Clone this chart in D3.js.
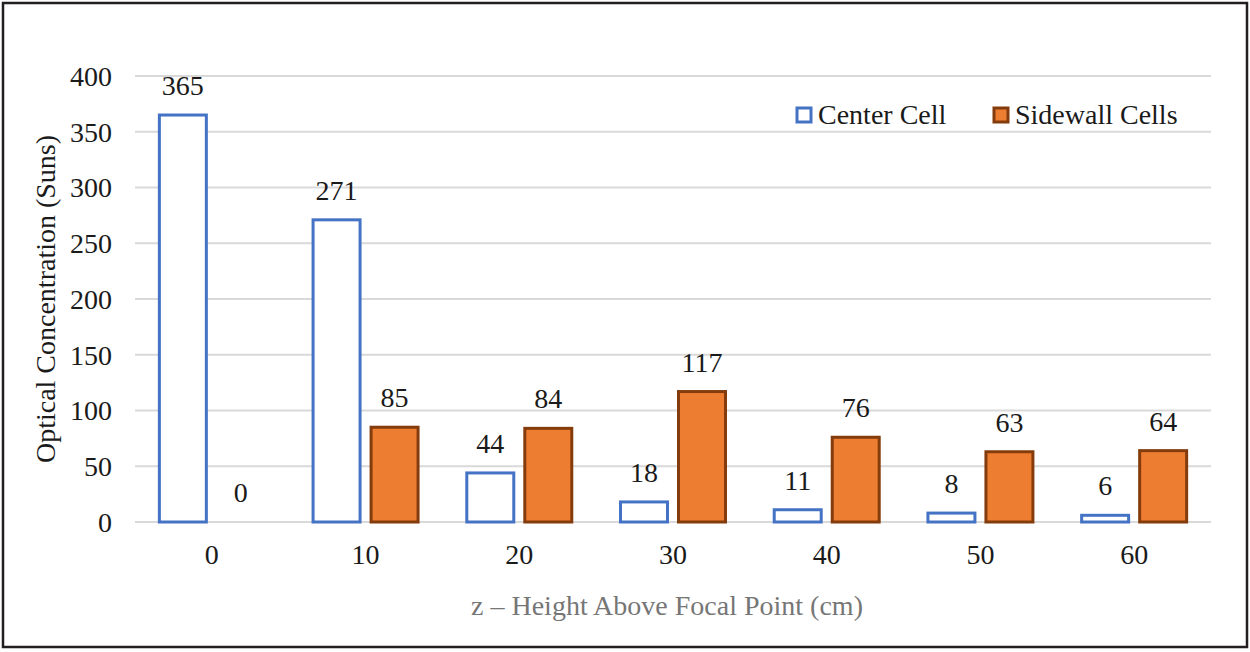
<!DOCTYPE html>
<html>
<head>
<meta charset="utf-8">
<script src="https://cdn.jsdelivr.net/npm/d3@7"></script>
<style>
  body { margin: 0; background: #fff; }
  svg text { font-family: "Liberation Serif", "DejaVu Serif", "Times New Roman", serif; }
</style>
</head>
<body>
<svg id="chart"></svg>
<script>
// chart data
const heights = ['0', '10', '20', '30', '40', '50', '60'];
const centerCell = [365, 271, 44, 18, 11, 8, 6];
const sidewallCells = [0, 85, 84, 117, 76, 63, 64];
const yTicks = [0, 50, 100, 150, 200, 250, 300, 350, 400];
const seriesNames = ['Center Cell', 'Sidewall Cells'];

const width = 1250;
const height = 652;
const plot = { left: 135, right: 1211, top: 76, bottom: 522 };
const fs = 28;

const svg = d3.select('#chart')
    .attr('width', width)
    .attr('height', height)
    .attr('font-family', 'Liberation Serif, serif');

// outer frame
svg.append('rect')
    .attr('x', 3).attr('y', 3)
    .attr('width', width - 6).attr('height', height - 8)
    .attr('fill', '#fff')
    .attr('stroke', '#231f20')
    .attr('stroke-width', 2.5);

const x = d3.scaleBand()
    .domain(heights)
    .range([plot.left, plot.right]);

const xInner = d3.scaleBand()
    .domain(seriesNames)
    .range([0, x.bandwidth()])
    .paddingInner(0.19)
    .paddingOuter(0.42);

const y = d3.scaleLinear()
    .domain([0, 400])
    .range([plot.bottom, plot.top]);

// gridlines
svg.append('g')
    .selectAll('line')
    .data(yTicks)
    .enter()
    .append('line')
    .attr('x1', plot.left)
    .attr('x2', plot.right)
    .attr('y1', d => y(d))
    .attr('y2', d => y(d))
    .attr('stroke', '#d9d9d9')
    .attr('stroke-width', 2);

// y tick labels
svg.append('g')
    .selectAll('text')
    .data(yTicks)
    .enter()
    .append('text')
    .attr('x', 112)
    .attr('y', d => y(d))
    .attr('dy', '0.35em')
    .attr('text-anchor', 'end')
    .attr('font-size', fs)
    .attr('fill', '#1a1a1a')
    .text(d => d);

// x tick labels
svg.append('g')
    .selectAll('text')
    .data(heights)
    .enter()
    .append('text')
    .attr('x', d => x(d) + x.bandwidth() / 2)
    .attr('y', 564)
    .attr('text-anchor', 'middle')
    .attr('font-size', fs)
    .attr('fill', '#1a1a1a')
    .text(d => d);

const rows = heights.map((h, i) => ({ h, center: centerCell[i], side: sidewallCells[i] }));

const groups = svg.append('g')
    .selectAll('g')
    .data(rows)
    .enter()
    .append('g')
    .attr('transform', d => `translate(${x(d.h)},0)`);

// center cell bars (hollow)
groups.append('rect')
    .attr('x', xInner('Center Cell'))
    .attr('y', d => y(d.center))
    .attr('width', xInner.bandwidth())
    .attr('height', d => y(0) - y(d.center))
    .attr('fill', '#fff')
    .attr('stroke', '#4472c4')
    .attr('stroke-width', 3);

// sidewall bars
groups.filter(d => d.side > 0)
    .append('rect')
    .attr('x', xInner('Sidewall Cells'))
    .attr('y', d => y(d.side))
    .attr('width', xInner.bandwidth())
    .attr('height', d => y(0) - y(d.side))
    .attr('fill', '#ed7d31')
    .attr('stroke', '#843c0c')
    .attr('stroke-width', 3);

// value labels
groups.append('text')
    .attr('x', xInner('Center Cell') + xInner.bandwidth() / 2)
    .attr('y', d => y(d.center) - 20)
    .attr('text-anchor', 'middle')
    .attr('font-size', fs)
    .attr('fill', '#1a1a1a')
    .text(d => d.center);

groups.append('text')
    .attr('x', xInner('Sidewall Cells') + xInner.bandwidth() / 2)
    .attr('y', d => y(d.side) - 20)
    .attr('text-anchor', 'middle')
    .attr('font-size', fs)
    .attr('fill', '#1a1a1a')
    .text(d => d.side);

// axis titles
svg.append('text')
    .attr('x', 667)
    .attr('y', 615)
    .attr('text-anchor', 'middle')
    .attr('font-size', fs)
    .attr('fill', '#767676')
    .text('z \u2013 Height Above Focal Point (cm)');

svg.append('text')
    .attr('transform', `translate(55, ${(plot.top + plot.bottom) / 2}) rotate(-90)`)
    .attr('text-anchor', 'middle')
    .attr('font-size', fs)
    .attr('fill', '#1a1a1a')
    .text('Optical Concentration (Suns)');

// legend
const legend = [
    { name: seriesNames[0], x: 797, fill: '#fff', stroke: '#4472c4' },
    { name: seriesNames[1], x: 994, fill: '#ed7d31', stroke: '#843c0c' }
];
const lg = svg.append('g')
    .selectAll('g')
    .data(legend)
    .enter()
    .append('g')
    .attr('transform', d => `translate(${d.x},108)`);

lg.append('rect')
    .attr('width', 14)
    .attr('height', 14)
    .attr('fill', d => d.fill)
    .attr('stroke', d => d.stroke)
    .attr('stroke-width', 3);

lg.append('text')
    .attr('x', 21)
    .attr('y', 16)
    .attr('font-size', fs)
    .attr('fill', '#1a1a1a')
    .text(d => d.name);
</script>
</body>
</html>
